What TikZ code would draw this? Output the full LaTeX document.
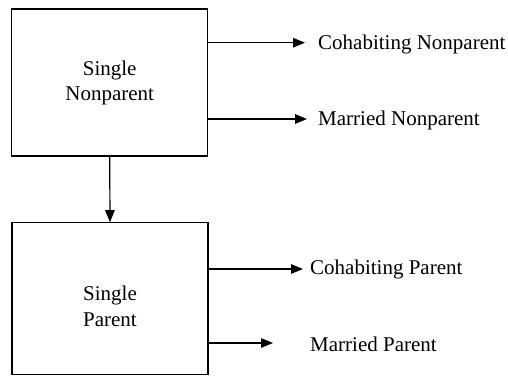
\documentclass[tikz,border=0pt]{standalone}
\usepackage{fontspec}
\setmainfont{Liberation Serif}
\usetikzlibrary{arrows.meta}
\begin{document}
\begin{tikzpicture}[x=1pt,y=1pt,
  box/.style={draw, line width=1.2pt, inner sep=0pt},
  txt/.style={inner sep=0pt, align=center, font=\fontsize{21}{25.5}\selectfont},
  lbl/.style={anchor=west, inner sep=0pt, font=\fontsize{21}{25}\selectfont},
  arr/.style={line width=1.2pt, -{Triangle[length=12pt,width=9.5pt]}}]
\useasboundingbox (0,0) rectangle (508,376);
% boxes
\node[box, minimum width=196pt, minimum height=147pt] (sn) at (109.7,293.5) {};
\node[box, minimum width=196pt, minimum height=152pt] (sp) at (110,77.2) {};
\node[txt] (snt) at (109.7,293) {Single\\Nonparent};
\node[txt] (spt) at (110,69.5) {Single\\Parent};
% labels
\node[lbl] (cn) at (318,332) {Cohabiting Nonparent};
\node[lbl] (mn) at (318,256) {Married Nonparent};
\node[lbl] (cp) at (310,107) {Cohabiting Parent};
\node[lbl] (mp) at (310,32) {Married Parent};
% arrow tips
\coordinate (t1) at (305,333.3);
\coordinate (t2) at (307,257);
\coordinate (t3) at (303,107);
\coordinate (t4) at (273,33);
% connectors
\draw[arr] (sn.south) -- (sp.north);
\draw[arr] (sn.east |- t1) -- (t1);
\draw[arr] (sn.east |- t2) -- (t2);
\draw[arr] (sp.east |- t3) -- (t3);
\draw[arr] (sp.east |- t4) -- (t4);
\end{tikzpicture}
\end{document}
